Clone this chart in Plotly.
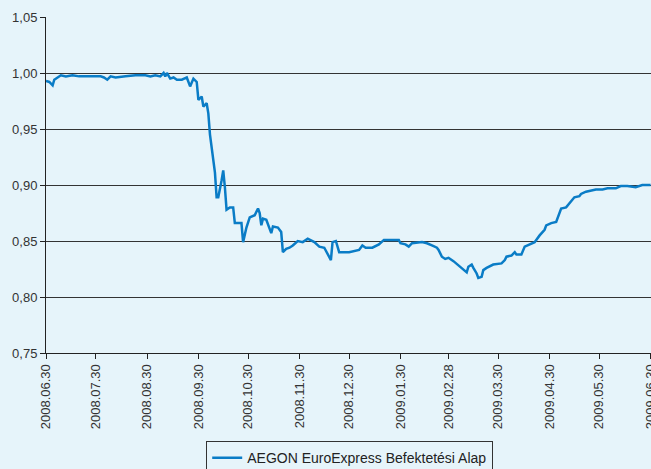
import plotly.graph_objects as go

series_name = "AEGON EuroExpress Befektetési Alap"

dates = [
    "2008-06-30", "2008-07-02", "2008-07-04", "2008-07-05", "2008-07-09", "2008-07-12",
    "2008-07-16", "2008-07-20", "2008-07-27", "2008-08-02", "2008-08-04", "2008-08-06",
    "2008-08-08", "2008-08-11", "2008-08-17", "2008-08-23", "2008-08-29", "2008-09-01",
    "2008-09-04", "2008-09-07", "2008-09-09", "2008-09-10", "2008-09-11", "2008-09-13",
    "2008-09-15", "2008-09-17", "2008-09-20", "2008-09-23", "2008-09-25", "2008-09-27",
    "2008-09-29", "2008-09-30", "2008-10-02", "2008-10-03", "2008-10-05", "2008-10-06",
    "2008-10-07", "2008-10-09", "2008-10-10", "2008-10-11", "2008-10-12", "2008-10-14",
    "2008-10-15", "2008-10-16", "2008-10-17", "2008-10-19", "2008-10-21", "2008-10-22",
    "2008-10-26", "2008-10-27", "2008-10-29", "2008-10-31", "2008-11-03", "2008-11-05",
    "2008-11-06", "2008-11-07", "2008-11-08", "2008-11-10", "2008-11-12", "2008-11-13",
    "2008-11-14", "2008-11-17", "2008-11-19", "2008-11-20", "2008-11-22", "2008-11-24",
    "2008-11-26", "2008-11-29", "2008-12-02", "2008-12-05", "2008-12-09", "2008-12-12",
    "2008-12-15", "2008-12-17", "2008-12-19", "2008-12-20", "2008-12-22", "2008-12-24",
    "2008-12-30", "2009-01-05", "2009-01-07", "2009-01-09", "2009-01-13", "2009-01-17",
    "2009-01-20", "2009-01-23", "2009-01-29", "2009-01-30", "2009-02-02", "2009-02-04",
    "2009-02-06", "2009-02-12", "2009-02-15", "2009-02-18", "2009-02-21", "2009-02-22",
    "2009-02-24", "2009-02-26", "2009-02-28", "2009-03-03", "2009-03-06", "2009-03-08",
    "2009-03-11", "2009-03-12", "2009-03-14", "2009-03-15", "2009-03-17", "2009-03-18",
    "2009-03-20", "2009-03-21", "2009-03-23", "2009-03-27", "2009-04-01", "2009-04-03",
    "2009-04-04", "2009-04-07", "2009-04-09", "2009-04-10", "2009-04-13", "2009-04-15",
    "2009-04-19", "2009-04-21", "2009-04-24", "2009-04-27", "2009-04-28", "2009-05-01",
    "2009-05-04", "2009-05-06", "2009-05-07", "2009-05-10", "2009-05-13", "2009-05-15",
    "2009-05-18", "2009-05-19", "2009-05-22", "2009-05-26", "2009-05-28", "2009-06-01",
    "2009-06-04", "2009-06-09", "2009-06-12", "2009-06-16", "2009-06-21", "2009-06-25",
    "2009-06-29", "2009-06-30",
]

values = [
    0.993, 0.992, 0.989, 0.994, 0.998, 0.997,
    0.998, 0.997, 0.997, 0.997, 0.996, 0.994,
    0.997, 0.996, 0.997, 0.998, 0.998, 0.997,
    0.998, 0.997, 1.000, 0.997, 1.000, 0.995,
    0.996, 0.994, 0.994, 0.996, 0.988, 0.995,
    0.992, 0.976, 0.979, 0.970, 0.973, 0.964,
    0.945, 0.922, 0.911, 0.889, 0.889, 0.904,
    0.913, 0.898, 0.878, 0.880, 0.880, 0.866,
    0.866, 0.849, 0.862, 0.871, 0.873, 0.879,
    0.875, 0.864, 0.870, 0.869, 0.862, 0.857,
    0.863, 0.862, 0.858, 0.840, 0.843, 0.844,
    0.846, 0.850, 0.849, 0.852, 0.849, 0.845,
    0.844, 0.839, 0.833, 0.849, 0.850, 0.840,
    0.840, 0.842, 0.846, 0.844, 0.844, 0.847,
    0.851, 0.851, 0.851, 0.848, 0.847, 0.845,
    0.848, 0.849, 0.848, 0.846, 0.844, 0.842,
    0.836, 0.834, 0.835, 0.832, 0.828, 0.826,
    0.822, 0.827, 0.829, 0.826, 0.821, 0.817,
    0.818, 0.824, 0.826, 0.829, 0.830, 0.833,
    0.836, 0.837, 0.840, 0.838, 0.838, 0.845,
    0.848, 0.849, 0.855, 0.860, 0.864, 0.866,
    0.867, 0.875, 0.879, 0.880, 0.885, 0.889,
    0.890, 0.892, 0.894, 0.895, 0.896, 0.896,
    0.897, 0.897, 0.899, 0.899, 0.898, 0.900,
    0.900, 0.900,
]

tick_dates = [
    "2008-06-30", "2008-07-30", "2008-08-30", "2008-09-30", "2008-10-30", "2008-11-30",
    "2008-12-30", "2009-01-30", "2009-02-28", "2009-03-30", "2009-04-30", "2009-05-30",
    "2009-06-30",
]
tick_labels = [
    "2008.06.30", "2008.07.30", "2008.08.30", "2008.09.30", "2008.10.30", "2008.11.30",
    "2008.12.30", "2009.01.30", "2009.02.28", "2009.03.30", "2009.04.30", "2009.05.30",
    "2009.06.30",
]

bg = "#E6F4FA"
line_color = "#0A7CC6"

fig = go.Figure()
fig.add_trace(go.Scatter(
    x=dates, y=values, mode="lines", name=series_name,
    line=dict(color=line_color, width=2.5),
    showlegend=True,
))

fig.update_layout(
    width=651, height=469,
    margin=dict(l=46, r=0, t=17, b=116, autoexpand=False),
    paper_bgcolor=bg, plot_bgcolor=bg,
    separators=", ",
    font=dict(family="Liberation Sans, Arial, sans-serif", size=13, color="#333333"),
    showlegend=True,
    legend=dict(
        orientation="h", x=0.502, xanchor="center", y=-0.262, yanchor="top",
        bordercolor="#333333", borderwidth=1, bgcolor=bg,
        font=dict(size=14, color="#222222"),
    ),
    xaxis=dict(
        type="date", range=["2008-06-30", "2009-06-30 06:00"],
        tickvals=tick_dates, ticktext=tick_labels, tickangle=-90,
        showgrid=False, showline=True, linecolor="#222222", linewidth=1,
        ticks="outside", ticklen=5, tickcolor="#222222",
        zeroline=False, automargin=False, ticklabeloverflow="allow",
    ),
    yaxis=dict(
        range=[0.75, 1.05], dtick=0.05, tick0=0.75, tickformat=".2f",
        showgrid=True, gridcolor="#333333", gridwidth=1,
        showline=True, linecolor="#222222", linewidth=1,
        ticks="outside", ticklen=5, tickcolor="#222222",
        zeroline=False, automargin=False,
    ),
)

post = (
    "document.documentElement.style.margin='0';"
    "document.body.style.margin='0';"
    "document.body.style.padding='0';"
    "document.body.style.overflow='hidden';"
    "document.body.style.background='" + bg + "';"
)

fig.write_html("out.html", post_script=post, config={"displayModeBar": False})
